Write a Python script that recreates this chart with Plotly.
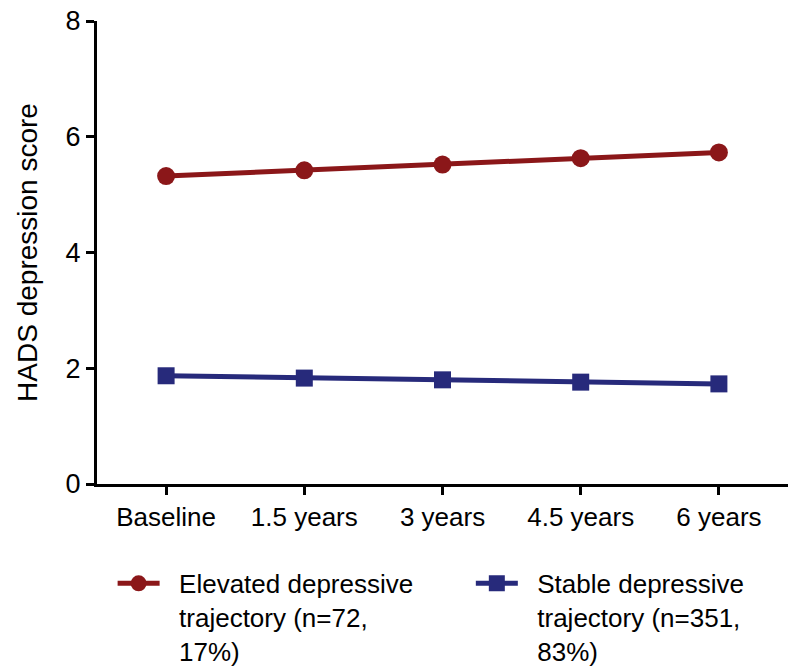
import plotly.graph_objects as go

categories = ["Baseline", "1.5 years", "3 years", "4.5 years", "6 years"]
elevated = [5.32, 5.42, 5.52, 5.63, 5.73]
stable = [1.87, 1.83, 1.80, 1.76, 1.73]
y_ticks = [0, 2, 4, 6, 8]
elevated_lines = ["Elevated depressive", "trajectory (n=72,", "17%)"]
stable_lines = ["Stable depressive", "trajectory (n=351,", "83%)"]
y_title = "HADS depression score"

RED = "#8b1719"
BLUE = "#272a7b"
FONT = "Liberation Sans, Arial, Helvetica, sans-serif"
PAD = "&nbsp;&nbsp;"


def legend_label(lines):
    return "<br>".join(PAD + s for s in lines)


fig = go.Figure()
fig.add_trace(go.Scatter(
    x=list(range(len(categories))), y=elevated, name=legend_label(elevated_lines),
    mode="lines+markers",
    line=dict(color=RED, width=5),
    marker=dict(symbol="circle", size=18, color=RED),
    legend="legend",
))
fig.add_trace(go.Scatter(
    x=list(range(len(categories))), y=stable, name=legend_label(stable_lines),
    mode="lines+markers",
    line=dict(color=BLUE, width=5),
    marker=dict(symbol="square", size=17, color=BLUE),
    legend="legend2",
))

legend_common = dict(
    orientation="v", xanchor="left", yanchor="top",
    font=dict(size=26, family=FONT), itemwidth=42,
    bgcolor="rgba(0,0,0,0)", valign="top",
)

fig.update_layout(
    width=800, height=669,
    margin=dict(l=97, r=12, t=21, b=185, autoexpand=False),
    plot_bgcolor="white", paper_bgcolor="white",
    font=dict(family=FONT, size=26, color="black"),
    showlegend=True,
    legend=dict(x=0.0226, y=-0.164, **legend_common),
    legend2=dict(x=0.541, y=-0.164, **legend_common),
    xaxis=dict(
        range=[-0.5, 4.5], tickmode="array",
        tickvals=list(range(len(categories))), ticktext=categories,
        showline=True, linecolor="black", linewidth=3,
        ticks="outside", ticklen=8, tickwidth=3, tickcolor="black",
        showgrid=False, zeroline=False, tickfont=dict(size=26),
    ),
    yaxis=dict(
        range=[0, 8], tickmode="array", tickvals=y_ticks,
        showline=True, linecolor="black", linewidth=3,
        ticks="outside", ticklen=8, tickwidth=3, tickcolor="black",
        showgrid=False, zeroline=False, tickfont=dict(size=27),
        title=dict(text=y_title, font=dict(size=28), standoff=20),
    ),
)

fig.write_html(
    "out.html",
    config={"displayModeBar": False},
    post_script="document.body.style.margin='0';document.body.style.padding='0';",
)
